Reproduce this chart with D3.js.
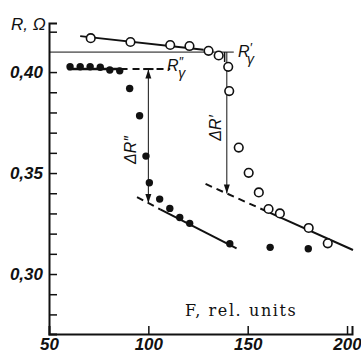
<!DOCTYPE html>
<html>
<head>
<meta charset="utf-8">
<script src="https://cdn.jsdelivr.net/npm/d3@7"></script>
<style>
  body { margin: 0; background: #fff; }
  svg { display: block; }
  .lbl { font-family: "Liberation Sans", sans-serif; font-style: italic; fill: #111; }
</style>
</head>
<body>
<svg width="361" height="353"></svg>
<script>
// open circles (upper curve)
var openF = [71, 91, 111, 120.7, 130.3, 135.4, 140.2, 140.7, 145.5, 150.5, 155.6, 160.5, 166.2, 180.7, 190.3];
var openR = [0.4168, 0.4149, 0.4134, 0.4129, 0.4105, 0.4082, 0.4026, 0.3906, 0.3626, 0.3501, 0.3404, 0.3322, 0.3300, 0.3228, 0.3152];

// filled dots (lower curve)
var filledF = [60.6, 65.7, 70.7, 75.8, 80.6, 85.6, 90.6, 95.6, 98.8, 100.5, 105.7, 110.8, 115.8, 120.8, 141.0, 161.3, 180.5];
var filledR = [0.4026, 0.4026, 0.4026, 0.4024, 0.4010, 0.4006, 0.3919, 0.3784, 0.3584, 0.3452, 0.3371, 0.3325, 0.3280, 0.3251, 0.3150, 0.3132, 0.3125];

// fitted lines
var topLineF = [65.7, 127.8], topLineR = [0.4178, 0.4110];
var rGamma1 = 0.4099, rGamma1F = [50, 143];        // R'_gamma
var rGamma2 = 0.4015, rGamma2F = [59.5, 86, 111];   // R''_gamma (solid, then dashed)
var lowFitF = [94.3, 106, 144.4], lowFitR = [0.3381, 0.3320, 0.3127];
var upFitF = [128.8, 161, 203], upFitR = [0.3446, 0.3304, 0.3119];

var yTicks = [0.28, 0.29, 0.30, 0.31, 0.32, 0.33, 0.34, 0.35, 0.36, 0.37, 0.38, 0.39, 0.40, 0.42];
var yLabels = [0.30, 0.35, 0.40];
var xTicks = [50, 100, 150, 200];

var svg = d3.select("svg");
var x = d3.scaleLinear().domain([50, 202.5]).range([49, 352]);
var y = d3.scaleLinear().domain([0.2703, 0.4243]).range([334, 23]);

function seg(f0, r0, f1, r1, dashed, w) {
  svg.append("line")
    .attr("x1", x(f0)).attr("y1", y(r0))
    .attr("x2", x(f1)).attr("y2", y(r1))
    .attr("stroke", "#111")
    .attr("stroke-width", w || 2)
    .attr("stroke-dasharray", dashed ? "7,5" : null);
}

// axes
var yAxis = d3.axisLeft(y).tickValues(yTicks).tickSize(-8).tickPadding(6)
  .tickFormat(function(d) {
    return yLabels.some(function(v) { return Math.abs(v - d) < 1e-6; }) ? d3.format(".2f")(d).replace(".", ",") : "";
  });
var gy = svg.append("g").attr("transform", "translate(" + x(50) + ",0)").call(yAxis);
var xAxis = d3.axisBottom(x).tickValues(xTicks).tickSize(-8).tickPadding(4).tickFormat(d3.format("d"));
var gx = svg.append("g").attr("transform", "translate(0," + y(0.2703) + ")").call(xAxis);
[gy, gx].forEach(function(g) {
  g.select(".domain").attr("stroke", "#111").attr("stroke-width", 2);
  g.selectAll(".tick line").attr("stroke", "#111").attr("stroke-width", 1.5);
  g.selectAll(".tick text").attr("class", "lbl").attr("font-size", 17).attr("font-weight", "bold");
});
gx.selectAll(".tick").filter(function(d) { return d === 50; }).select("line").remove();

svg.append("text").attr("class", "lbl").attr("x", 11).attr("y", 30).attr("font-size", 17)
  .text("R, Ω");

svg.append("text").attr("x", 185).attr("y", 316)
  .attr("font-family", "DejaVu Serif, serif").attr("font-size", 16).attr("letter-spacing", 1.6).attr("fill", "#111")
  .text("F, rel. units");

// lines
seg(topLineF[0], topLineR[0], topLineF[1], topLineR[1], false, 2);
seg(rGamma1F[0], rGamma1, rGamma1F[1], rGamma1, false, 1);
seg(rGamma2F[0], rGamma2, rGamma2F[1], rGamma2, false, 2.5);
seg(rGamma2F[1], rGamma2, rGamma2F[2], rGamma2, true, 2);
seg(lowFitF[0], lowFitR[0], lowFitF[1], lowFitR[1], true, 2);
seg(lowFitF[1], lowFitR[1], lowFitF[2], lowFitR[2], false, 2);
seg(upFitF[0], upFitR[0], upFitF[1], upFitR[1], true, 2);
seg(upFitF[1], upFitR[1], upFitF[2], upFitR[2], false, 2);

// R'_gamma bracket
seg(138.4, rGamma1, 138.4, 0.4050, false, 1.5);

// delta arrows
function arrowHead(f, r, dir) {
  var px = x(f), py = y(r);
  svg.append("path")
    .attr("d", "M" + px + "," + py + "L" + (px - 3) + "," + (py - dir * 9) + "L" + (px + 3) + "," + (py - dir * 9) + "Z")
    .attr("fill", "#111");
}
var dR2F = 100, dR2Bot = 0.3352;
seg(dR2F, rGamma2, dR2F, dR2Bot, false, 1);
seg(dR2F - 2.6, rGamma2, dR2F + 2.6, rGamma2, false, 2);
arrowHead(dR2F, rGamma2 - 0.0002, -1);
arrowHead(dR2F, dR2Bot, 1);

var dR1F = 139.5, dR1Bot = 0.3399;
seg(dR1F, rGamma1, dR1F, dR1Bot, false, 1);
arrowHead(dR1F, dR1Bot, 1);

// points
svg.append("g").selectAll("circle").data(filledF).join("circle")
  .attr("cx", function(d) { return x(d); })
  .attr("cy", function(d, i) { return y(filledR[i]); })
  .attr("r", 3.7).attr("fill", "#111");

svg.append("g").selectAll("circle").data(openF).join("circle")
  .attr("cx", function(d) { return x(d); })
  .attr("cy", function(d, i) { return y(openR[i]); })
  .attr("r", 4.3).attr("fill", "#fff").attr("stroke", "#111").attr("stroke-width", 1.6);

// labels
function gammaLabel(px, py, primes) {
  var t = svg.append("text").attr("class", "lbl").attr("x", px).attr("y", py).attr("font-size", 16);
  t.append("tspan").text("R");
  t.append("tspan").attr("dy", -5).attr("font-size", 13).text(primes);
  t.append("tspan").attr("dx", -5).attr("dy", 12).attr("font-size", 14).text("γ");
}
gammaLabel(167, 71, "″");
gammaLabel(238, 57, "′");

svg.append("text").attr("class", "lbl").attr("font-size", 16).attr("text-anchor", "middle")
  .attr("transform", "translate(136,150) rotate(-90)").text("ΔR″");
svg.append("text").attr("class", "lbl").attr("font-size", 16).attr("text-anchor", "middle")
  .attr("transform", "translate(221,128) rotate(-90)").text("ΔR′");
</script>
</body>
</html>
